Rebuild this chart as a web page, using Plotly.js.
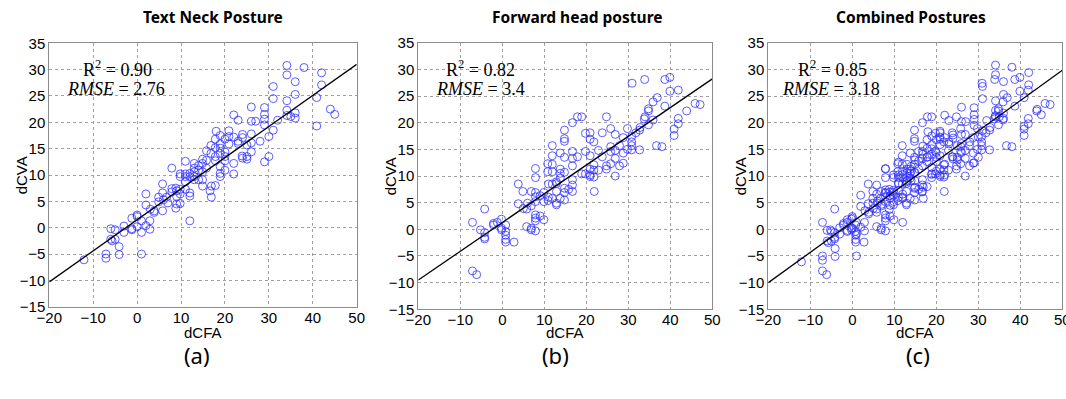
<!DOCTYPE html>
<html>
<head>
<meta charset="utf-8">
<script src="https://cdn.plot.ly/plotly-3.0.1.min.js"></script>
<style>html,body{margin:0;padding:0;background:#fff;}#chart{width:1066px;height:399px;}</style>
</head>
<body>
<div id="chart"></div>
<script>
// ---- Data ----
const panelTitles = ["Text Neck Posture", "Forward head posture", "Combined Postures"];
const panelLabels = ["(a)", "(b)", "(c)"];
const r2Values = ["0.90", "0.82", "0.85"];
const rmseValues = ["2.76", "3.4", "3.18"];
const fitSlopes = [0.59, 0.539, 0.569];
const fitIntercepts = [1.5, 1.27, 1.37];
const xRange = [-20, 50];
const yRange = [-15, 35];

// Text neck posture: dCFA / dCVA
const textNeckX = [34.1,38,34.1,42,31,36,42,31,36,34.1,40.9,26,29,44,34.1,36,45,22,34.1,29,35,36,23,26,27,29,32,40.9,31,20.9,18,29,30,24,26,18.9,20.9,20,23,28,24,17.8,22,26,16.8,18.9,20.9,23,25,17.8,18.9,15.8,16.8,18.9,20,17.8,20,23.9,26,25,24,25,30,14.9,17.8,20,22,29,11,13,15.8,14,14.9,15.8,18.9,20,7.9,13,14,14.9,18.9,22,9.8,11,12,13,9.8,11,12,13,14,14.9,18.9,13,11,5.8,14.9,17.8,16.9,8.8,7.9,11,16.6,9.8,9,7.9,5.8,12,12,16.9,4.9,6.7,9,9.8,6,4.9,7,9.8,9,2,2,8.8,5.8,3,3.9,3.9,0,0,-1.2,2.9,1,12,0,-3,2,-1.2,-1.2,2.9,1,-6,-5,-3,-6,-5,-5.7,-4.1,-7.1,-4.1,-7.1,1,-12.1];
const textNeckY = [30.8,30.4,29.0,29.4,26.8,27.7,27.1,24.5,25.3,24.1,24.7,22.9,22.8,22.5,22.3,21.8,21.5,21.4,21.3,21.5,21.1,20.8,20.4,20.2,20.2,20.6,20.4,19.3,18.5,18.4,18.3,19.5,17.3,17.7,17.8,17.5,17.3,16.8,16.4,16.4,17.1,16.8,17.2,16.1,15.6,15.9,15.9,16.0,15.7,15.2,15.1,14.6,14.1,14.1,14.4,13.5,13.5,13.6,14.4,13.5,13.2,13.0,13.5,13.0,12.7,12.7,12.2,12.5,12.6,12.2,12.8,11.8,12.2,11.3,11.6,10.9,11.3,11.3,10.9,10.6,10.3,10.2,10.2,10.2,10.3,10.6,9.7,9.7,9.7,9.7,9.1,9.1,9.7,9.1,8.7,8.3,7.9,8.0,7.9,7.5,7.4,7.3,7.0,7.3,7.0,6.8,6.6,6.6,6.0,5.8,5.8,5.8,5.9,6.4,5.3,4.9,4.7,4.6,4.5,6.4,4.3,3.7,3.2,3.5,2.9,3.2,2.4,2.1,1.8,1.3,1.3,1.3,0.2,0.3,0.4,-0.2,-0.4,-0.3,-0.9,-0.2,-0.4,-0.9,-2.2,-2.2,-2.5,-3.6,-5.0,-5.1,-5.8,-5.0,-6.1];

// Forward head posture: dCFA / dCVA
const forwardHeadX = [39.9,38.7,33.9,30.9,41.9,39.9,36.9,35.9,45.9,47.1,38.7,34.8,34.8,43.9,34,33.8,35.9,17.9,18.9,24.8,41.9,16.7,41.9,34.8,29.8,25.8,32.8,40.9,14.8,23.8,26.9,19.8,20.9,31.8,32.7,40.9,28.8,30.8,14.8,20.9,14.8,21.8,30.8,11.9,36.7,38,25.8,30.8,27.9,25.8,26.9,29.8,30.8,32.7,19.8,16.7,22.9,28.8,13.8,11.9,20.9,16.7,14.8,23.8,17.9,26.9,28.8,25.8,10.8,11.9,16.7,21.8,24.8,27.9,7.9,13.8,20.9,22.9,21.8,24.8,10.8,11.9,14.8,13.8,18.9,19.8,20.9,26.9,7.9,20.9,21.8,16.7,12.9,13.8,3.8,16.7,11,11.9,12.9,14.8,15.8,16.7,21.9,4.9,6.9,7.9,9.9,12.9,14.8,9,7.9,11,11.9,13.8,9.9,7.9,10.9,12.9,14.8,3.8,6,12.9,6.9,5,5.8,-4.2,7.9,9,7.9,7.9,9.9,-7.1,-2.1,-1.2,-0.2,-2.1,0.8,5.8,-0.2,-0.2,6.9,6.9,7.9,-5.2,-4.2,0.8,0.8,-4.2,-4.2,0.8,0.8,2.8,-7.1,-6.1];
const forwardHeadY = [28.5,28.1,28.1,27.4,26.1,25.9,24.7,23.9,23.6,23.4,23.1,22.6,22.2,22.2,21.1,20.7,20.5,21.1,21.1,21.1,20.8,20.0,19.8,19.6,18.9,18.9,19.1,18.8,18.6,18.1,17.8,18.0,18.1,18.1,18.6,17.6,17.2,17.4,17.0,16.9,16.5,16.4,16.4,15.7,15.7,15.5,15.5,15.7,15.7,14.6,14.8,15.0,14.9,14.9,14.6,14.6,14.8,14.3,14.3,13.8,13.8,13.3,13.5,13.6,13.6,13.3,12.4,12.3,12.3,12.2,11.9,12.1,11.9,11.9,11.4,11.3,11.3,11.1,11.1,11.3,10.8,10.8,10.7,10.5,10.4,10.4,10.2,10.0,9.7,9.9,9.8,9.3,8.9,9.6,8.5,8.3,8.5,8.5,8.6,7.7,7.5,7.1,7.1,7.1,7.1,6.9,6.9,7.1,6.9,6.3,6.1,6.0,5.8,5.8,5.2,5.2,5.4,4.9,5.5,4.8,4.9,4.6,4.4,3.9,3.8,3.8,2.7,2.5,2.1,1.6,1.8,1.3,1.1,1.3,1.9,0.8,0.8,0.5,0.2,-0.1,0.2,-0.1,-0.3,-0.1,-0.6,-0.4,-1.1,-1.5,-1.8,-1.9,-2.4,-2.4,-7.8,-8.5];

// Combined postures = both groups together
const combinedX = textNeckX.concat(forwardHeadX);
const combinedY = textNeckY.concat(forwardHeadY);

// ---- Layout geometry (pixels) ----
const W = 1066, H = 399;
const plotBoxes = [
  {l: 49.3, r: 356.7, t: 43.3, b: 306.7},
  {l: 418.3, r: 712.3, t: 42.7, b: 309.3},
  {l: 768.3, r: 1062.3, t: 42.7, b: 309.3}
];
const titlePos = [[213, 17], [577, 17], [911, 17]];
const labelPos = [[197, 355], [555, 355], [918, 355]];
const r2Pos = [[117, 69], [480, 69], [832, 69]];
const rmsePos = [[116, 89], [480, 89], [831, 89]];

const px = x => x / W;
const py = y => 1 - y / H;

const seriesX = [textNeckX, forwardHeadX, combinedX];
const seriesY = [textNeckY, forwardHeadY, combinedY];

const traces = [];
const layout = {
  width: W, height: H,
  margin: {l: 0, r: 0, t: 0, b: 0},
  paper_bgcolor: '#fff', plot_bgcolor: '#fff',
  showlegend: false,
  font: {family: 'Liberation Sans, Arial, sans-serif', size: 15, color: '#000'},
  annotations: []
};

for (let i = 0; i < 3; i++) {
  const ax = i === 0 ? '' : String(i + 1);
  traces.push({
    type: 'scatter', mode: 'markers',
    x: seriesX[i], y: seriesY[i],
    xaxis: 'x' + ax, yaxis: 'y' + ax,
    marker: {symbol: 'circle-open', size: 8, color: 'rgba(40,40,255,0.75)', line: {width: 1}},
    hoverinfo: 'skip', cliponaxis: false
  });
  const fx = xRange.slice();
  const fy = fx.map(v => fitSlopes[i] * v + fitIntercepts[i]);
  traces.push({
    type: 'scatter', mode: 'lines', x: fx, y: fy,
    xaxis: 'x' + ax, yaxis: 'y' + ax,
    line: {color: '#000', width: 1.3}, hoverinfo: 'skip'
  });
  const b = plotBoxes[i];
  const common = {
    showline: true, mirror: true, linecolor: '#8c8c8c', linewidth: 1,
    showgrid: true, gridcolor: '#a0a0a0', griddash: 'dot', gridwidth: 1,
    zeroline: false, ticks: '', tickfont: {size: 15, family: 'Liberation Sans, Arial, sans-serif', color: '#000'},
    fixedrange: true, ticklabeloverflow: 'allow'
  };
  layout['xaxis' + ax] = Object.assign({}, common, {
    domain: [px(b.l), px(b.r)], range: xRange, dtick: 10, tick0: -20,
    anchor: 'y' + ax, ticklabelstandoff: -3
  });
  layout['yaxis' + ax] = Object.assign({}, common, {
    domain: [py(b.b), py(b.t)], range: yRange, dtick: 5, tick0: -15,
    anchor: 'x' + ax, ticklabelstandoff: 0
  });
  const ann = layout.annotations;
  ann.push({xref: 'paper', yref: 'paper', x: px(titlePos[i][0]), y: py(titlePos[i][1]),
    text: '<b>' + panelTitles[i] + '</b>', showarrow: false, xanchor: 'center', yanchor: 'middle',
    font: {family: 'Noto Sans, sans-serif', size: 15.5, color: '#000'}});
  ann.push({xref: 'paper', yref: 'paper', x: px(labelPos[i][0]), y: py(labelPos[i][1]),
    text: panelLabels[i], showarrow: false, xanchor: 'center', yanchor: 'middle',
    font: {family: 'Noto Sans, sans-serif', size: 22, color: '#000'}});
  ann.push({xref: 'paper', yref: 'paper', x: px((b.l + b.r) / 2), y: py(332),
    text: 'dCFA', showarrow: false, xanchor: 'center', yanchor: 'middle',
    font: {family: 'Liberation Sans, Arial, sans-serif', size: 15, color: '#000'}});
  ann.push({xref: 'paper', yref: 'paper', x: px(b.l - 28), y: py((b.t + b.b) / 2),
    text: 'dCVA', showarrow: false, textangle: -90, xanchor: 'center', yanchor: 'middle',
    font: {family: 'Liberation Sans, Arial, sans-serif', size: 15, color: '#000'}});
  ann.push({xref: 'paper', yref: 'paper', x: px(r2Pos[i][0]), y: py(r2Pos[i][1]),
    text: 'R<sup>2</sup> = ' + r2Values[i], showarrow: false, xanchor: 'center', yanchor: 'middle',
    font: {family: 'Liberation Serif, serif', size: 18, color: '#000'}});
  ann.push({xref: 'paper', yref: 'paper', x: px(rmsePos[i][0]), y: py(rmsePos[i][1]),
    text: '<i>RMSE</i> = ' + rmseValues[i], showarrow: false, xanchor: 'center', yanchor: 'middle',
    font: {family: 'Liberation Serif, serif', size: 18, color: '#000'}});
}

Plotly.newPlot('chart', traces, layout, {displayModeBar: false, staticPlot: true});
</script>
</body>
</html>
